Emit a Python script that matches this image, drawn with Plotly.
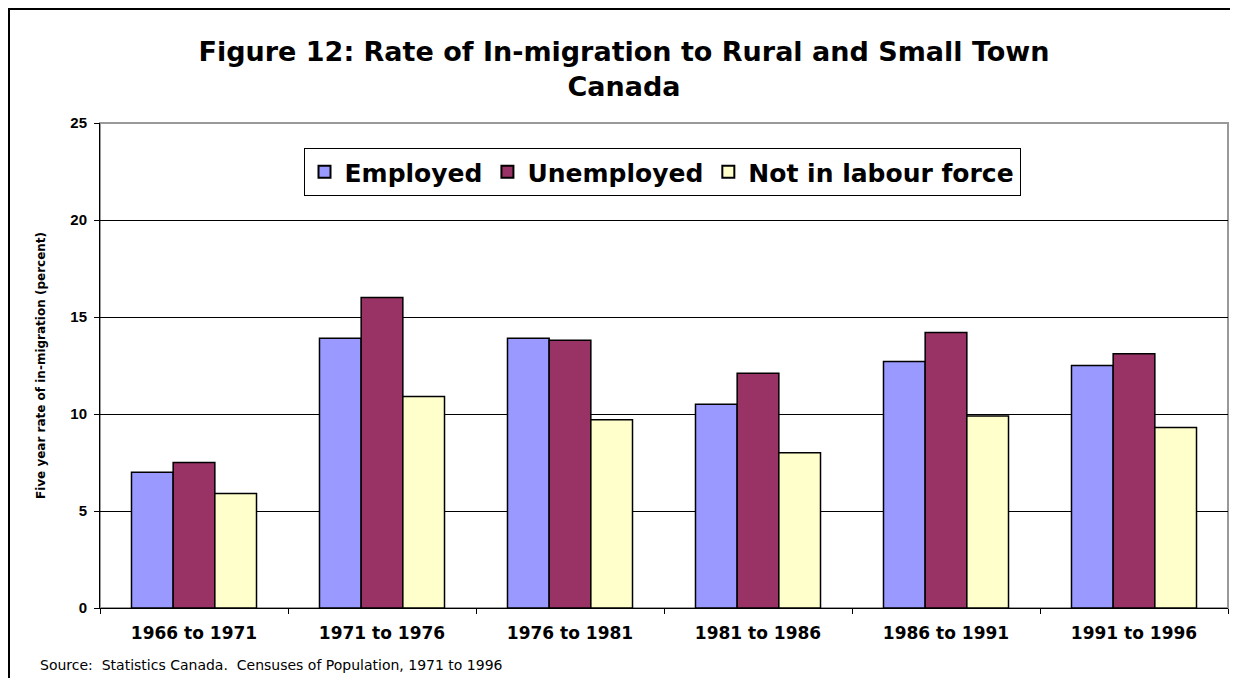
import plotly.graph_objects as go

categories = ["1966 to 1971", "1971 to 1976", "1976 to 1981", "1981 to 1986", "1986 to 1991", "1991 to 1996"]
employed = [7.0, 13.9, 13.9, 10.5, 12.7, 12.5]
unemployed = [7.5, 16.0, 13.8, 12.1, 14.2, 13.1]
not_in_labour_force = [5.9, 10.9, 9.7, 8.0, 9.9, 9.3]
y_ticks = [0, 5, 10, 15, 20, 25]

series = [
    ("Employed", employed, "#9999FF"),
    ("Unemployed", unemployed, "#993366"),
    ("Not in labour force", not_in_labour_force, "#FFFFCC"),
]

FONT = "Liberation Sans, Arial, sans-serif"
WIDE = "DejaVu Sans, Liberation Sans, sans-serif"

fig = go.Figure()
for name, vals, col in series:
    fig.add_trace(go.Bar(
        x=categories, y=vals, name=name,
        marker=dict(color=col, line=dict(color="#000000", width=1.5)),
    ))

# page has an 8px body margin: figure is offset by 8px
OFF = 8
W, H = 1238 - OFF, 678 - OFF
L, R, T, B = 100 - OFF, 10, 123 - OFF, 70
pw, ph = W - L - R, H - T - B

def px_x(p):
    return (p - OFF - L) / pw

def px_y(p):
    return (H - B - (p - OFF)) / ph

fig.update_layout(
    width=W, height=H,
    margin=dict(l=L, r=R, t=T, b=B),
    paper_bgcolor="white", plot_bgcolor="white",
    barmode="group", bargap=0.335, bargroupgap=0,
    font=dict(family=FONT, color="#000000"),
    title=dict(
        text="<b>Figure 12: Rate of In-migration to Rural and Small Town<br>Canada</b>",
        x=(624 - OFF) / W, xanchor="center", y=1 - (61 - OFF) / H, yanchor="middle",
        font=dict(size=27, family=WIDE, color="#000000"),
    ),
    legend=dict(
        orientation="h", x=px_x(662), xanchor="center", y=px_y(172), yanchor="middle",
        bordercolor="#000000", borderwidth=1, bgcolor="white",
        font=dict(size=25, family=WIDE, color="#000000", weight="bold"),
        itemsizing="constant", traceorder="normal",
    ),
    xaxis=dict(
        type="category", showline=True, linecolor="#000000", linewidth=1,
        ticks="outside", ticklen=5, tickcolor="#000000", tickson="boundaries",
        tickfont=dict(size=17, family=WIDE, weight="bold"),
        ticklabelstandoff=10,
        showgrid=False, zeroline=False,
    ),
    yaxis=dict(
        range=[0, 25], tickvals=y_ticks, showline=True, linecolor="#000000", linewidth=1,
        ticks="outside", ticklen=5, tickcolor="#000000",
        tickfont=dict(size=15, family=FONT, weight="bold"),
        ticklabelstandoff=4,
        showgrid=True, gridcolor="#000000", gridwidth=1, zeroline=False,
        title=dict(text="<b>Five year rate of in-migration (percent)</b>",
                   font=dict(size=12, family=WIDE), standoff=22),
    ),
    shapes=[
        dict(type="rect", xref="paper", yref="paper", x0=0, x1=1, y0=0, y1=1,
             line=dict(color="#999999", width=2), layer="below"),
        dict(type="line", xref="paper", yref="paper", x0=px_x(8), x1=px_x(1240), y0=px_y(9), y1=px_y(9),
             line=dict(color="#000000", width=2)),
        dict(type="line", xref="paper", yref="paper", x0=px_x(9), x1=px_x(9), y0=px_y(9), y1=px_y(690),
             line=dict(color="#000000", width=2)),
    ],
    annotations=[
        dict(text="Source:  Statistics Canada.  Censuses of Population, 1971 to 1996",
             xref="paper", yref="paper", x=px_x(38), y=px_y(665), xanchor="left", yanchor="middle",
             showarrow=False, font=dict(size=14, family=WIDE, color="#000000")),
    ],
)

fig.write_html("out.html")
